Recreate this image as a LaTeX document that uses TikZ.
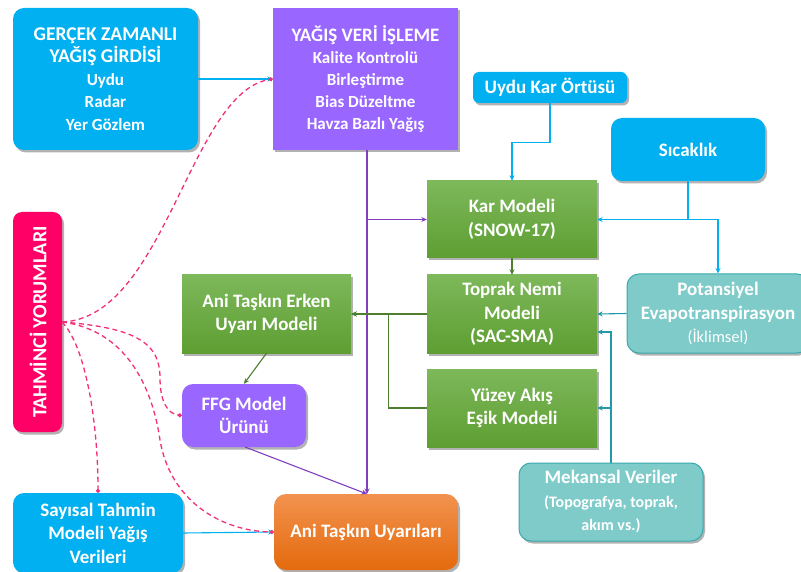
\documentclass[tikz,border=0pt]{standalone}
\usepackage{fontspec}
\setmainfont{Carlito}
\usetikzlibrary{arrows.meta,shadows,calc}
\definecolor{ccyan}{HTML}{00B0F0}
\definecolor{cpurple}{HTML}{9966FF}
\definecolor{lpurple}{HTML}{7F3FBF}
\definecolor{gtop}{HTML}{7DB85A}
\definecolor{gbot}{HTML}{5E9E32}
\definecolor{gline}{HTML}{4E7F2F}
\definecolor{tealfill}{HTML}{7ECBC9}
\definecolor{tealdraw}{HTML}{3AA9AE}
\definecolor{tline}{HTML}{2199A6}
\definecolor{cpink}{HTML}{FF0066}
\definecolor{dpink}{HTML}{F0307A}
\definecolor{otop}{HTML}{F2924F}
\definecolor{obot}{HTML}{E46A0C}
\begin{document}
\begin{tikzpicture}[x=1pt,y=-1pt,
  every node/.style={inner sep=0pt,align=center,text=white,font=\bfseries\fontsize{19}{23.5}\selectfont},
  shad/.style={drop shadow={shadow xshift=2pt,shadow yshift=-2.5pt,opacity=0.3,fill=black}},
  bluebox/.style={fill=ccyan,rounded corners=11pt,shad},
  purplebox/.style={fill=cpurple,shad},
  greenbox/.style={top color=gtop,bottom color=gbot,shad},
  tealbox/.style={fill=tealfill,draw=tealdraw,line width=1pt,rounded corners=12pt,shad},
  pinkbox/.style={fill=cpink,rounded corners=9pt,shad},
  orangebox/.style={top color=otop,bottom color=obot,rounded corners=12pt,shad},
  tip/.style={-{Stealth[length=5.5pt,width=5pt]}},
  cyanln/.style={draw=ccyan,line width=1.1pt,tip},
  purpln/.style={draw=lpurple,line width=1.1pt,tip},
  greenln/.style={draw=gline,line width=1.1pt,tip},
  tealln/.style={draw=tline,line width=1.1pt,tip},
  pinkln/.style={draw=dpink,line width=1.3pt,dash pattern=on 5pt off 3.5pt,-{Circle[length=4pt]}},
  wh/.style 2 args={minimum width=#1,minimum height=#2}
]
\useasboundingbox (0,0) rectangle (801,572);
% nodes
\node[bluebox,wh={185pt}{142pt},font=\bfseries\fontsize{17}{22.5}\selectfont] (gz) at (105.5,79)
  {{\fontsize{19.5}{23}\selectfont GERÇEK ZAMANLI}\\{\fontsize{19.5}{23}\selectfont YAĞIŞ GİRDİSİ}\\Uydu\\Radar\\Yer Gözlem};
\node[purplebox,wh={185pt}{142pt},font=\bfseries\fontsize{17}{22}\selectfont] (yv) at (365.5,79)
  {{\fontsize{19}{23}\selectfont YAĞIŞ VERİ İŞLEME}\\Kalite Kontrolü\\Birleştirme\\Bias Düzeltme\\Havza Bazlı Yağış};
\node[bluebox,rounded corners=6pt,wh={154pt}{31pt}] (ukar) at (550,87.5) {Uydu Kar Örtüsü};
\node[bluebox,wh={154pt}{63pt}] (sic) at (688,149.5) {Sıcaklık};
\node[greenbox,wh={170pt}{77pt}] (kar) at (512,219.5) {Kar Modeli\\(SNOW-17)};
\node[greenbox,wh={170pt}{78pt}] (top) at (512,314) {Toprak Nemi\\Modeli\\(SAC-SMA)};
\node[greenbox,wh={170pt}{78pt}] (yuz) at (512,408) {Yüzey Akış\\Eşik Modeli};
\node[tealbox,wh={182pt}{79pt}] (pot) at (718,313.5) {Potansiyel\\Evapotranspirasyon\\{\mdseries\fontsize{16.5}{20}\selectfont (İklimsel)}};
\node[tealbox,wh={184pt}{78pt}] (mek) at (611,502) {Mekansal Veriler\\{\fontsize{16}{20}\selectfont (Topografya, toprak,}\\{\fontsize{16}{20}\selectfont akım vs.)}};
\node[greenbox,wh={169pt}{78pt}] (ate) at (266.5,314) {Ani Taşkın Erken\\Uyarı Modeli};
\node[purplebox,rounded corners=11pt,wh={124pt}{63pt}] (ffg) at (244,415.5) {FFG Model\\Ürünü};
\node[pinkbox,wh={49pt}{220pt}] (tah) at (37.5,322) {};
\node[rotate=90,font=\bfseries\fontsize{20}{22}\selectfont] (tahtxt) at (38,322) {TAHMİNCİ YORUMLARI};
\node[bluebox,wh={170pt}{80pt}] (say) at (98,533) {Sayısal Tahmin\\Modeli Yağış\\Verileri};
\node[orangebox,wh={184pt}{76pt}] (atu) at (366,532) {Ani Taşkın Uyarıları};
% connectors
\coordinate (pv) at (367,150);
\coordinate (atutop) at (367,494);
\draw[cyanln] (gz.east) -- (yv.west);
\draw[purpln] (pv) -- (atutop);
\draw[purpln] (pv |- kar.west) -- (kar.west);
\draw[purpln] (245,447) -- (atutop);
\draw[cyanln] (ukar.south) -- ++(0,39) -| (kar.north);
\draw[cyanln] (sic.south) |- (kar.east);
\draw[cyanln] (sic.south |- kar.east) -| (pot.north);
\draw[greenln] (kar.south) -- (top.north);
\draw[greenln] (top.west) -- (ate.east);
\draw[greenln] (yuz.west) -- ++(-38,0) |- (ate.east);
\draw[greenln] (ate.south) -- (ffg.north);
\draw[tealln] (pot.west) -- (top.east);
\draw[tealln] (mek.north) |- ($(top.east)+(0,18)$);
\draw[tealln] (mek.north |- yuz.east) -- (yuz.east);
\draw[cyanln] (say.east) -- (atu.west);
% forecaster dashed links
\coordinate (t0) at (62,322);
\draw[pinkln] (t0) .. controls (165,318) and (190,92) .. (yv.west);
\draw[pinkln] (t0) .. controls (140,328) and (160,345) .. (160,378) .. controls (160,402) and (168,414) .. (ffg.west);
\draw[pinkln] (t0) .. controls (125,330) and (152,385) .. (160,440) .. controls (170,500) and (220,531) .. (atu.west);
\draw[pinkln] (t0) .. controls (85,345) and (98,420) .. (say.north);
\end{tikzpicture}
\end{document}
